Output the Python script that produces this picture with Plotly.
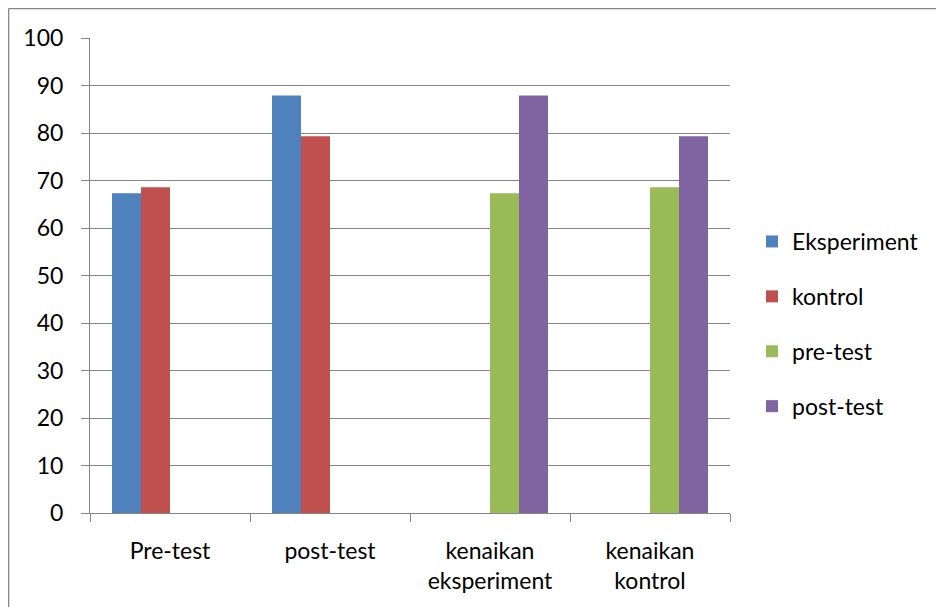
import plotly.graph_objects as go

categories = ["Pre-test", "post-test", "kenaikan<br>eksperiment", "kenaikan<br>kontrol"]
eksperiment = [67.3, 87.9, None, None]
kontrol = [68.6, 79.3, None, None]
pre_test = [None, None, 67.3, 68.6]
post_test = [None, None, 87.9, 79.3]

series = [
    ("Eksperiment", eksperiment, "#4F81BD"),
    ("kontrol", kontrol, "#C0504D"),
    ("pre-test", pre_test, "#9BBB59"),
    ("post-test", post_test, "#8064A2"),
]

FONT = "Lato"
FS = 23
GRID = "#868686"

fig = go.Figure()
for i, (name, vals, col) in enumerate(series):
    fig.add_trace(go.Bar(
        x=categories, y=vals, name=name,
        marker=dict(color=col, line=dict(width=0)),
        legendgroup=f"g{i}",
    ))

W, H = 944, 607
L, T = 82, 30
pw, ph = 640, 475
R, B = W - L - pw, H - T - ph

def px_x(X):
    return (X - L) / pw

def px_y(Y):
    return (T + ph - Y) / ph

fig.update_layout(
    width=W, height=H,
    margin=dict(l=L, r=R, t=T, b=B),
    paper_bgcolor="white", plot_bgcolor="white",
    barmode="group", bargap=0.275, bargroupgap=0,
    font=dict(family=FONT, size=FS, color="black"),
    showlegend=True,
    legend=dict(
        x=px_x(744), y=px_y(316), xanchor="left", yanchor="middle",
        traceorder="grouped", tracegroupgap=22,
        font=dict(family=FONT, size=FS, color="black"),
        itemwidth=30,
    ),
    xaxis=dict(
        showline=True, linecolor=GRID, linewidth=1,
        ticks="outside", ticklen=8, tickcolor=GRID, tickson="boundaries",
        showgrid=False, ticklabelstandoff=17,
        tickfont=dict(family=FONT, size=FS, color="black"),
    ),
    yaxis=dict(
        range=[0, 100], dtick=10, tick0=0,
        showline=True, linecolor=GRID, linewidth=1,
        ticks="outside", ticklen=8, tickcolor=GRID,
        showgrid=True, gridcolor=GRID, gridwidth=1,
        zeroline=False, ticklabelstandoff=13,
        tickfont=dict(family=FONT, size=FS, color="black"),
    ),
    shapes=[
        dict(type="line", xref="paper", yref="paper",
             x0=px_x(0.5), x1=px_x(W), y0=px_y(0.5), y1=px_y(0.5),
             line=dict(color=GRID, width=1.5), layer="below"),
        dict(type="line", xref="paper", yref="paper",
             x0=px_x(0.5), x1=px_x(0.5), y0=px_y(0.5), y1=px_y(H),
             line=dict(color=GRID, width=1.5), layer="below"),
    ],
)

fig.write_html("out.html")
